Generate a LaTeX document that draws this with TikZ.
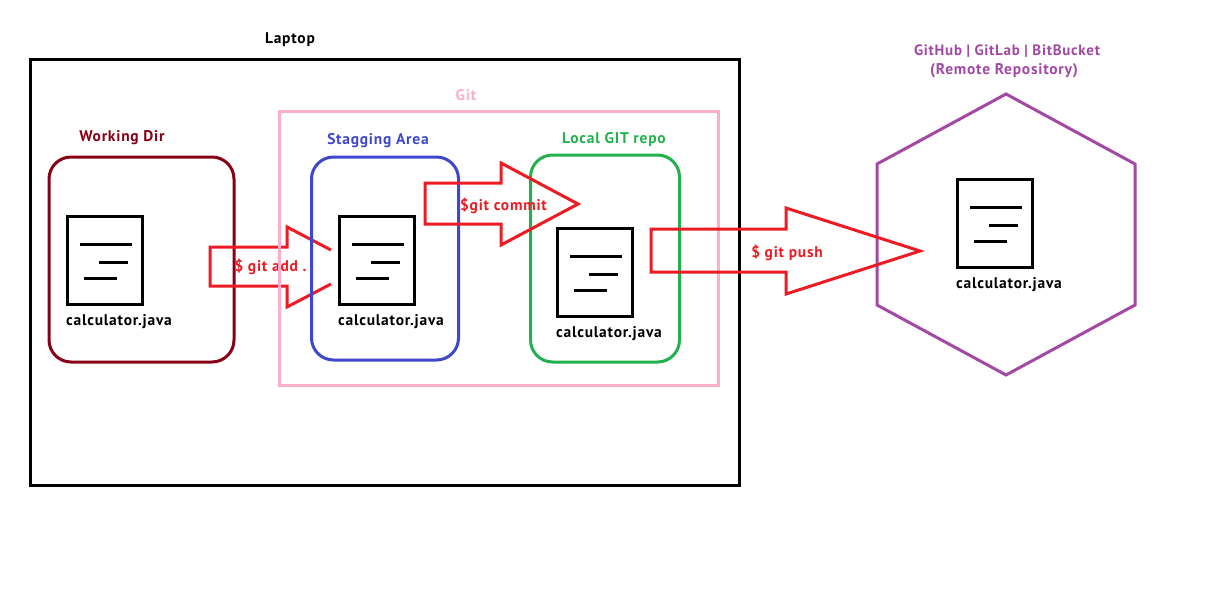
\documentclass[tikz,border=0pt]{standalone}
\usepackage{fontspec}
\setmainfont{PT Sans}[LetterSpace=5]
\definecolor{wdred}{HTML}{880015}
\definecolor{stblue}{HTML}{3F48CC}
\definecolor{lgreen}{HTML}{22B14C}
\definecolor{gitpink}{HTML}{FFAEC9}
\definecolor{hubpurple}{HTML}{A349A4}
\definecolor{cmdred}{HTML}{ED1C24}
\def\px{0.75pt}
\tikzset{
  x=0.75pt,y=-0.75pt,
  frame/.style={draw,line width=3*\px,inner sep=0pt,outer sep=0pt},
  room/.style={frame,rounded corners=22*\px},
  doc/.style={frame,draw=black,minimum width=75*\px,minimum height=88*\px},
  docline/.style={black,line width=3*\px},
  lbl/.style={font=\bfseries\fontsize{11.6}{13}\selectfont,inner sep=0pt,align=center},
  blockarrow/.style={cmdred,line width=3*\px,line join=miter},
}
\newcommand{\docicon}[3]{%
  \node[doc] (#1) at (#2+38,#3+44.5) {};
  \draw[docline] (#2+13,#3+28) -- (#2+65,#3+28);
  \draw[docline] (#2+32,#3+46.5) -- (#2+61,#3+46.5);
  \draw[docline] (#2+17,#3+62) -- (#2+50,#3+62);
  \node[lbl] (#1label) at (#2+52,#3+106) {calculator.java};
}
\begin{document}
\begin{tikzpicture}
\useasboundingbox (0,0) rectangle (1221,603);
\fill[white] (0,0) rectangle (1221,603);
% containers
\node[frame,draw=black,minimum width=709*\px,minimum height=426*\px] (laptop) at (385,272) {};
\node[lbl] (laptoplabel) at (290,40) {Laptop};
\node[room,draw=wdred,minimum width=185*\px,minimum height=205*\px] (wd) at (141.5,259.5) {};
\node[lbl,text=wdred] (wdlabel) at (122,138) {Working Dir};
\node[room,draw=lgreen,minimum width=149*\px,minimum height=207*\px] (local) at (605,258.5) {};
\node[lbl,text=lgreen] (locallabel) at (614,140) {Local GIT repo};
% first block arrow lies under the Git frame and the staging box
\draw[blockarrow] (331,250) -- (287,227) -- (287,247) -- (210,247) -- (210,286) -- (287,286) -- (287,307) -- (331,284);
\node[lbl,text=cmdred] (addlabel) at (270.5,267) {\$ git add .};
% git frame
\node[frame,draw=gitpink,minimum width=439*\px,minimum height=274*\px] (git) at (499,248) {};
\node[lbl,text=gitpink] (gitlabel) at (466,95) {Git};
\node[room,draw=stblue,minimum width=147*\px,minimum height=203*\px] (stage) at (385,258.5) {};
\node[lbl,text=stblue] (stagelabel) at (378,141) {Stagging Area};
% remote
\draw[hubpurple,line width=3*\px,line join=miter] (1006,94) -- (1135,164) -- (1135,305) -- (1006,375) -- (877,305) -- (877,164) -- cycle;
\node[lbl,text=hubpurple,font=\bfseries\fontsize{11.25}{13}\selectfont] (hublabel) at (1007,51) {GitHub | GitLab | BitBucket};
\node[lbl,text=hubpurple] (remotelabel) at (1004,71) {(Remote Repository)};
% documents
\docicon{d1}{67}{216}
\docicon{d2}{339}{216}
\docicon{d3}{557}{228}
\docicon{d4}{957}{179}
% block arrows
\draw[blockarrow] (578,204) -- (501,163) -- (501,183) -- (425,183) -- (425,224) -- (501,224) -- (501,245) -- cycle;
\node[lbl,text=cmdred] (commitlabel) at (503.5,206) {\$git commit};
\draw[blockarrow] (920,251) -- (786,208) -- (786,229) -- (651,229) -- (651,272) -- (786,272) -- (786,294) -- cycle;
\node[lbl,text=cmdred] (pushlabel) at (787,253) {\$ git push};
\end{tikzpicture}
\end{document}
